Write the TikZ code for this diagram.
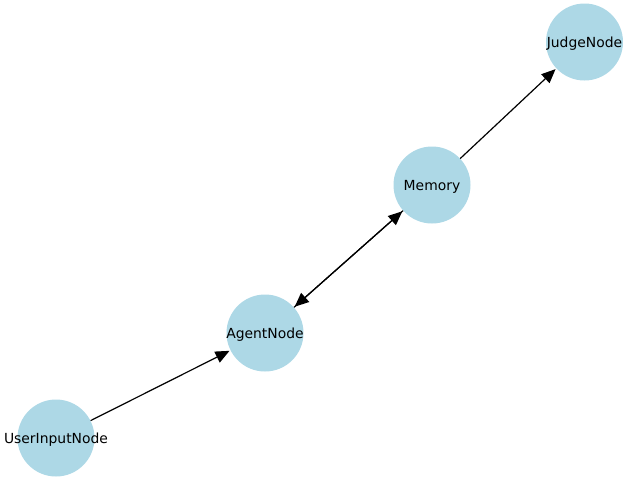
\documentclass[tikz,border=0pt]{standalone}
\usepackage{fontspec}
\setmainfont{DejaVu Sans}
\usetikzlibrary{arrows.meta}
\definecolor{nodeblue}{HTML}{ADD8E6}
\tikzset{
  gnode/.style={circle, fill=nodeblue, draw=none, minimum size=77pt, inner sep=0pt},
  glabel/.style={font=\fontsize{13.9pt}{16pt}\selectfont, text=black, inner sep=0pt, yshift=-1.5pt},
  gedge/.style={draw=black, line width=1.2pt, -{Triangle[length=14pt, width=12pt]}, shorten >=1pt}
}
\begin{document}
\begin{tikzpicture}[x=1pt, y=-1pt]
\useasboundingbox (0,0) rectangle (640,480);
\node[gnode, label={[glabel]center:JudgeNode}] (judge) at (584.5,42) {};
\node[gnode, label={[glabel]center:Memory}] (memory) at (432,185) {};
\node[gnode, label={[glabel]center:AgentNode}] (agent) at (265,333) {};
\node[gnode, label={[glabel]center:UserInputNode}] (user) at (56,438) {};
\draw[gedge] (user) -- (agent);
\draw[gedge] (agent) -- (memory);
\draw[gedge] (memory) -- (agent);
\draw[gedge] (memory) -- (judge);
\end{tikzpicture}
\end{document}
